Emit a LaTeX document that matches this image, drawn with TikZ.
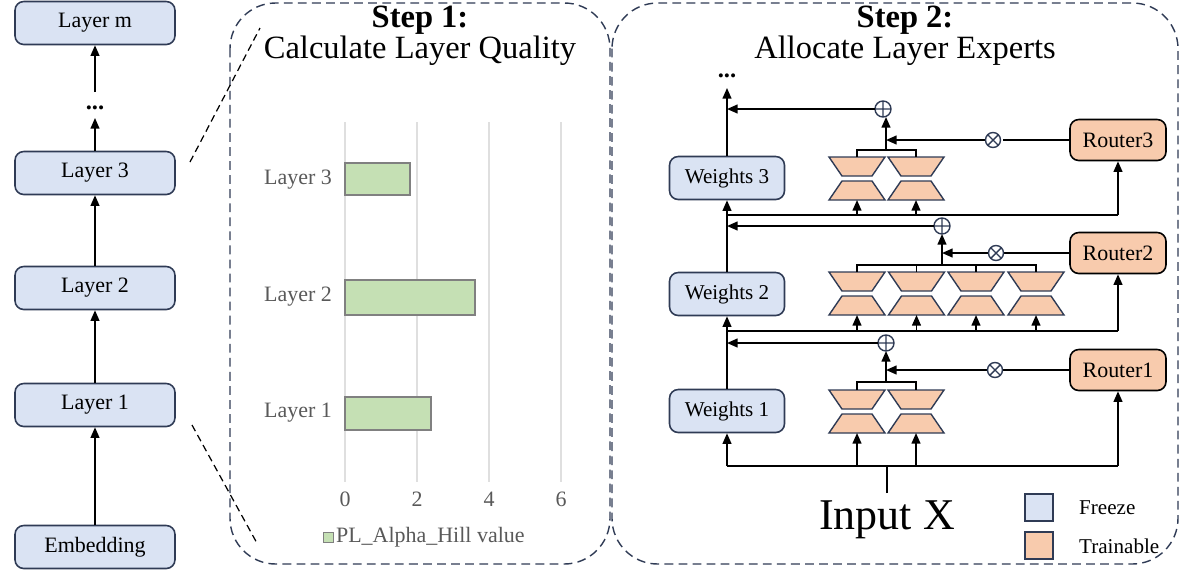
\documentclass[tikz,border=0pt]{standalone}
\usepackage{fontspec}
\setmainfont{Liberation Serif}
\usetikzlibrary{arrows.meta}
\definecolor{fblue}{HTML}{DAE3F3}
\definecolor{dblue}{HTML}{2F3B55}
\definecolor{forange}{HTML}{F8CBAD}
\definecolor{fgreen}{HTML}{C5E0B4}
\definecolor{tgray}{HTML}{595959}
\newcommand\myexpert[2]{%
  \draw[dblue,fill=forange,line width=0.8pt] (#1-28,#2)--(#1+28,#2)--(#1+15,#2+19)--(#1-15,#2+19)--cycle;
  \draw[dblue,fill=forange,line width=0.8pt] (#1-15,#2+24)--(#1+15,#2+24)--(#1+28,#2+43)--(#1-28,#2+43)--cycle;}
\newcommand\myplus[2]{%
  \draw[dblue,line width=0.8pt,fill=white] (#1,#2) circle (8) (#1-8,#2)--(#1+8,#2) (#1,#2-8)--(#1,#2+8);}
\newcommand\mytimes[2]{%
  \draw[dblue,line width=0.8pt,fill=white] (#1,#2) circle (7.5) (#1-5.3,#2-5.3)--(#1+5.3,#2+5.3) (#1-5.3,#2+5.3)--(#1+5.3,#2-5.3);}
\begin{document}
\begin{tikzpicture}[x=0.02cm,y=-0.02cm,
  lay/.style={draw=dblue,fill=fblue,rounded corners=5pt,line width=0.9pt,minimum width=160*0.02cm,minimum height=43*0.02cm,font=\fontsize{12.5}{14}\selectfont,inner sep=0},
  wt/.style={lay,minimum width=115*0.02cm,font=\fontsize{12}{14}\selectfont},
  rt/.style={lay,draw=black,fill=forange,minimum width=96*0.02cm,minimum height=41*0.02cm,font=\fontsize{12.5}{14}\selectfont},
  arr/.style={-{Triangle[length=6pt,width=5pt]},line width=0.9pt},
  ln/.style={line width=0.9pt},
  pan/.style={draw=dblue,dash pattern=on 5pt off 3pt,line width=0.8pt,rounded corners=26pt},
  gl/.style={text=tgray,font=\fontsize{12.5}{14}\selectfont},
  ttl/.style={font=\fontsize{18.5}{21}\selectfont}]
\useasboundingbox (0,0) rectangle (1181,569);
% left column
\node[lay] (lm) at (95,23) {Layer m};
\node[font=\fontsize{14}{16}\selectfont\bfseries] (ld) at (95,108) {...};
\node[lay] (l3) at (95,173) {Layer 3};
\node[lay] (l2) at (95,288) {Layer 2};
\node[lay] (l1) at (95,405) {Layer 1};
\node[lay] (emb) at (95,547) {Embedding};
\draw[arr] (emb) -- (l1);
\draw[arr] (l1) -- (l2);
\draw[arr] (l2) -- (l3);
\draw[arr] (l3.north) -- (95,118);
\draw[arr] (95,92) -- (lm.south);
% panel 1
\draw[pan] (230,3) rectangle (610,564);
\draw[dash pattern=on 4pt off 2.5pt,line width=0.7pt] (190,162) -- (260,28);
\draw[dash pattern=on 4pt off 2.5pt,line width=0.7pt] (192,425) -- (258,545);
\node[font=\fontsize{18.5}{21}\selectfont\bfseries] (s1) at (420,20) {Step 1:};
\node[ttl] (s1b) at (420,51) {Calculate Layer Quality};
\foreach \v/\x in {0/345,2/417,4/489,6/561}{
  \draw[gray!25,line width=0.8pt] (\x,122) -- (\x,482);
  \node[gl] at (\x,499) {\v};}
\draw[gray,fill=fgreen,line width=0.6pt] (345,163) rectangle (410,195);
\draw[gray,fill=fgreen,line width=0.6pt] (345,280) rectangle (475,315);
\draw[gray,fill=fgreen,line width=0.6pt] (345,397) rectangle (431,430);
\node[gl,anchor=east] (g3) at (338,180) {Layer 3};
\node[gl,anchor=east] (g2) at (338,297) {Layer 2};
\node[gl,anchor=east] (g1) at (338,413) {Layer 1};
\draw[gray,fill=fgreen,line width=0.5pt] (323,532) rectangle (333,542);
\node[gl,anchor=west,inner sep=1pt] (lg) at (334,537) {PL\_Alpha\_Hill value};
% panel 2
\draw[pan] (612,3) rectangle (1178,564);
\node[font=\fontsize{18.5}{21}\selectfont\bfseries] (s2) at (905,20) {Step 2:};
\node[ttl] (s2b) at (905,51) {Allocate Layer Experts};
\node[wt] (w3) at (727,178) {Weights 3};
\node[wt] (w2) at (727,294) {Weights 2};
\node[wt] (w1) at (727,411) {Weights 1};
\node[rt] (r3) at (1118,140) {Router3};
\node[rt] (r2) at (1118,253) {Router2};
\node[rt] (r1) at (1118,370) {Router1};
\node[font=\fontsize{14}{16}\selectfont\bfseries] (dd) at (727,76) {...};
% experts
\foreach \x in {857,916}{\myexpert{\x}{157}\myexpert{\x}{390}}
\foreach \x in {857,916.5,976,1036}{\myexpert{\x}{272}}
% input row
\coordinate (in) at (887,493);
\draw[ln] (in) -- (887,466);
\draw[ln] (727,466) -- (1118,466);
\draw[arr] (727,466) -- (w1);
\draw[arr] (1118,466) -- (r1);
\foreach \x in {857,916}{\draw[arr] (\x,466) -- (\x,433);}
\node[font=\fontsize{25}{28}\selectfont] (ix) at (887,520) {Input X};
% row 1 outputs
\draw[ln] (857,390) -- (857,382) -- (916,382) -- (916,390);
\draw[arr] (886,382) -- (886,351);
\draw[ln] (r1) -- (1003,370);
\draw[arr] (988,370) -- (886,370);
\mytimes{995}{370}
\myplus{886}{343}
\draw[arr] (878,343) -- (727,343);
\draw[arr] (w1) -- (w2);
% row 2 inputs
\draw[ln] (727,331) -- (1118,331);
\draw[arr] (1118,331) -- (r2);
\foreach \x in {857,916.5,976,1036}{\draw[arr] (\x,331) -- (\x,315);}
\draw[ln] (857,272) -- (857,265) -- (1036,265) -- (1036,272) (916.5,265)--(916.5,272) (976,265)--(976,272);
\draw[arr] (942,265) -- (942,234);
\draw[ln] (r2) -- (1003,253);
\draw[arr] (988,253) -- (942,253);
\mytimes{996}{253}
\myplus{942}{226}
\draw[arr] (934,226) -- (727,226);
\draw[arr] (w2) -- (w3);
% row 3 inputs
\draw[ln] (727,215) -- (1118,215);
\draw[arr] (1118,215) -- (r3);
\foreach \x in {857,916}{\draw[arr] (\x,215) -- (\x,200);}
\draw[ln] (857,157) -- (857,150) -- (916,150) -- (916,157);
\draw[arr] (886,150) -- (886,117);
\draw[ln] (r3) -- (1003,140);
\draw[arr] (986,140) -- (886,140);
\mytimes{993}{140}
\myplus{883}{109}
\draw[arr] (875,109) -- (727,109);
\draw[arr] (w3) -- (727,88);
% legend
\draw[dblue,fill=fblue,line width=0.8pt] (1025,494) rectangle (1053,521);
\draw[dblue,fill=forange,line width=0.8pt] (1025,532) rectangle (1053,559);
\node[anchor=west,font=\fontsize{12}{14}\selectfont] (lf) at (1073,508) {Freeze};
\node[anchor=west,font=\fontsize{12}{14}\selectfont] (lt) at (1073,546) {Trainable};
\end{tikzpicture}
\end{document}
